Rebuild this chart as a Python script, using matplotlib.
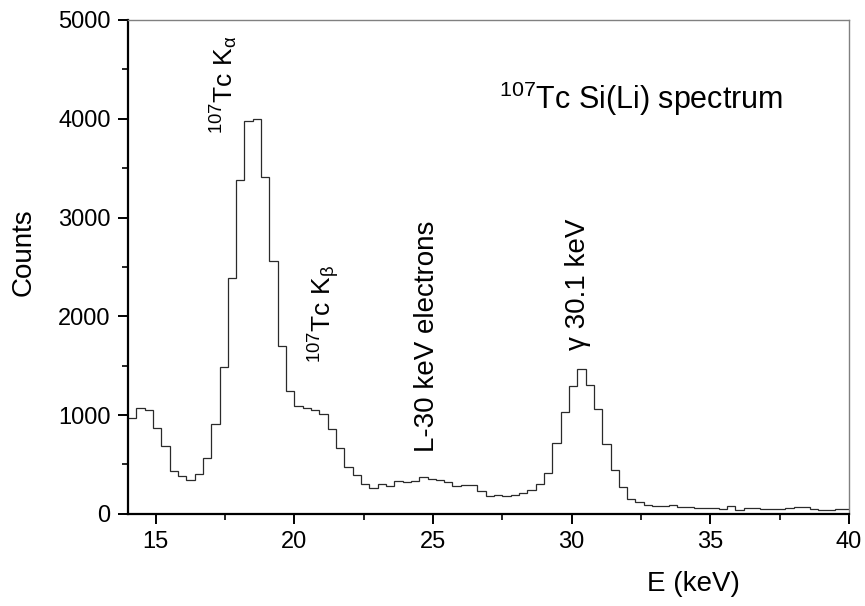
import numpy as np
import matplotlib
matplotlib.use("Agg")
import matplotlib.pyplot as plt
from matplotlib.ticker import MultipleLocator

plt.rcParams['font.family'] = ['Liberation Sans', 'DejaVu Sans']
plt.rcParams['mathtext.fontset'] = 'custom'
plt.rcParams['mathtext.rm'] = 'Liberation Sans'
plt.rcParams['mathtext.it'] = 'Liberation Sans'
plt.rcParams['mathtext.bf'] = 'Liberation Sans:bold'

# spectrum: 0.3 keV channels starting at 14.0 keV
e_start = 14.0
bin_width = 0.3
counts = [974, 1075, 1055, 872, 686, 439, 388, 348, 405, 564,
          913, 1487, 2390, 3380, 3982, 3995, 3408, 2559, 1704, 1240,
          1091, 1075, 1055, 1014, 855, 665, 473, 395, 304, 264,
          304, 284, 328, 320, 338, 378, 355, 345, 320, 284,
          294, 288, 236, 186, 193, 179, 193, 209, 243, 304,
          416, 716, 1031, 1291, 1471, 1305, 1058, 710, 449, 270,
          152, 118, 91, 84, 84, 94, 71, 71, 64, 64,
          57, 47, 78, 44, 57, 64, 54, 51, 51, 61,
          67, 67, 54, 44, 44, 51, 51]

# annotations: (text, x keV, y counts of label bottom, font size)
peak_labels = [
    (r"$^{107}$Tc K$_{\alpha}$", 17.46, 3850, 19),
    (r"$^{107}$Tc K$_{\beta}$", 21.07, 1530, 19),
    ("L-30 keV electrons", 24.79, 630, 20),
    ("\u03b3 30.1 keV", 30.23, 1660, 20),
]
title_text = r"$^{107}$Tc Si(Li) spectrum"

edges = e_start + bin_width * np.arange(len(counts) + 1)

fig = plt.figure(figsize=(8.65, 6.06), dpi=100)
ax = fig.add_axes([0.148, 0.152, 0.8335, 0.815])

ax.stairs(counts, edges, color='#2a2a2a', linewidth=0.9, baseline=None)

ax.set_xlim(14, 40)
ax.set_ylim(0, 5000)
ax.xaxis.set_major_locator(MultipleLocator(5))
ax.xaxis.set_minor_locator(MultipleLocator(2.5))
ax.yaxis.set_major_locator(MultipleLocator(1000))
ax.yaxis.set_minor_locator(MultipleLocator(500))

ax.tick_params(which='major', direction='out', length=7.5, width=1.4, labelsize=17, pad=5)
ax.tick_params(which='minor', direction='out', length=4, width=1.2)

for side in ['left', 'bottom']:
    ax.spines[side].set_linewidth(1.6)
    ax.spines[side].set_color('black')
for side in ['top', 'right']:
    ax.spines[side].set_linewidth(1.0)
    ax.spines[side].set_color('#808080')

ax.set_xlabel("E (keV)", fontsize=20)
ax.set_ylabel("Counts", fontsize=20)
ax.xaxis.set_label_coords(0.784, -0.115)
ax.yaxis.set_label_coords(-0.127, 0.53)

for txt, x, y, fs in peak_labels:
    ax.text(x, y, txt, rotation=90, fontsize=fs, ha='center', va='bottom')

ax.text(0.515, 0.82, title_text, transform=ax.transAxes, fontsize=22,
        ha='left', va='baseline')

fig.savefig("out.png", dpi=100)
